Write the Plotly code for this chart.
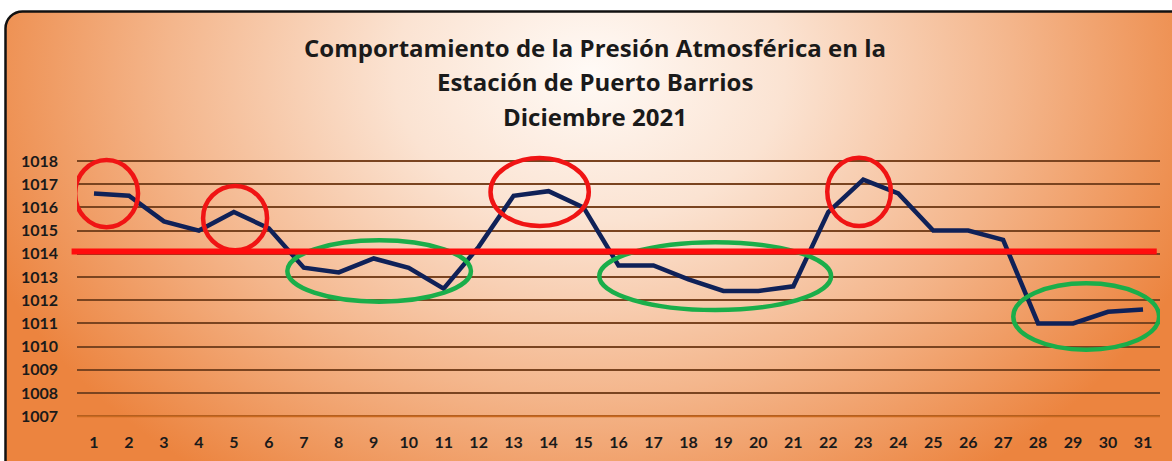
import base64
import plotly.graph_objects as go

days = list(range(1, 32))
pressure = [1016.6, 1016.5, 1015.4, 1015.0, 1015.8, 1015.1, 1013.4, 1013.2, 1013.8, 1013.4,
            1012.5, 1014.3, 1016.5, 1016.7, 1016.0, 1013.5, 1013.5, 1012.9, 1012.4, 1012.4,
            1012.6, 1015.8, 1017.2, 1016.6, 1015.0, 1015.0, 1014.6, 1011.0, 1011.0, 1011.5,
            1011.6]
y_ticks = list(range(1007, 1019))
reference_value = 1014.1

title_lines = ["Comportamiento de la Presión Atmosférica en la",
               "Estación de Puerto Barrios",
               "Diciembre 2021"]

# highlight ellipses (day range, pressure range)
high_marks = [(0.46, 2.26, 1015.15, 1018.04), (4.12, 5.95, 1014.15, 1016.92),
              (12.34, 15.15, 1015.2, 1018.13), (21.97, 23.79, 1015.2, 1018.14)]
low_marks = [(6.53, 11.78, 1011.94, 1014.58), (15.45, 22.08, 1011.58, 1014.5),
             (27.29, 31.46, 1009.87, 1012.73)]

W, H = 1172, 461
svg = f'''<svg xmlns="http://www.w3.org/2000/svg" width="{W}" height="{H}" viewBox="0 0 {W} {H}">
<defs>
<radialGradient id="g" gradientUnits="userSpaceOnUse" cx="0" cy="0" r="1"
 gradientTransform="translate(590,70) scale(650,500)">
<stop offset="0" stop-color="#fffaf6"/>
<stop offset="0.3" stop-color="#fbe3d2"/>
<stop offset="0.65" stop-color="#f4b68c"/>
<stop offset="1" stop-color="#ec843f"/>
</radialGradient>
</defs>
<rect x="0" y="0" width="{W}" height="{H}" fill="#ffffff"/>
<rect x="5.5" y="8.5" width="1190" height="470" rx="17" ry="17" fill="url(#g)" stroke="#111111" stroke-width="2.5"/>
</svg>'''
bg_src = "data:image/svg+xml;base64," + base64.b64encode(svg.encode()).decode()

fig = go.Figure()
fig.add_trace(go.Scatter(x=days, y=pressure, mode="lines",
                         line=dict(color="#0f2158", width=4.5), hoverinfo="x+y"))

shapes = []
shapes.append(dict(type="line", xref="x domain", yref="y", x0=0, x1=1,
                   y0=y_ticks[0], y1=y_ticks[0],
                   line=dict(color="#c9691f", width=2), layer="above"))
for x0, x1, y0, y1 in high_marks:
    shapes.append(dict(type="circle", xref="x", yref="y", x0=x0, x1=x1, y0=y0, y1=y1,
                       line=dict(color="#f01414", width=4.5), layer="above"))
for x0, x1, y0, y1 in low_marks:
    shapes.append(dict(type="circle", xref="x", yref="y", x0=x0, x1=x1, y0=y0, y1=y1,
                       line=dict(color="#1aae4a", width=4.5), layer="above"))
shapes.append(dict(type="line", xref="x domain", yref="y", x0=-0.005, x1=0.997,
                   y0=reference_value, y1=reference_value,
                   line=dict(color="#ff0d0d", width=6), layer="above"))

title_y = [45, 79, 114]
annotations = []
for txt, py in zip(title_lines, title_y):
    annotations.append(dict(text=f"<b>{txt}</b>", xref="paper", yref="paper",
                            x=595 / W, y=1 - py / H, xanchor="center", yanchor="middle",
                            showarrow=False, font=dict(family="Open Sans", size=24, color="#1a1a1a")))

fig.update_layout(
    width=W, height=H,
    margin=dict(l=0, r=0, t=0, b=0),
    paper_bgcolor="rgba(0,0,0,0)", plot_bgcolor="rgba(0,0,0,0)",
    showlegend=False,
    shapes=shapes, annotations=annotations,
    images=[dict(source=bg_src, xref="paper", yref="paper", x=0, y=1, sizex=1, sizey=1,
                 xanchor="left", yanchor="top", sizing="stretch", layer="below")],
    xaxis=dict(domain=[77 / W, 1160 / W], range=[0.514, 31.486], tickmode="array",
               tickvals=days, ticktext=[f"<b>{d}</b>" for d in days],
               showgrid=False, zeroline=False, showline=False, ticks="",
               ticklabelstandoff=3,
               tickfont=dict(family="Lato", size=16, color="#1a1a1a")),
    yaxis=dict(domain=[1 - 427.7 / H, 1 - 152 / H], range=[1006.5, 1018.3],
               tickmode="array", tickvals=y_ticks, ticktext=[f"<b>{v}</b>" for v in y_ticks],
               showgrid=True, gridcolor="#7a4420", gridwidth=2, zeroline=False,
               showline=False, ticks="", ticklabelstandoff=18,
               tickfont=dict(family="Lato", size=16, color="#1a1a1a")),
)

fig.write_html("out.html", config={"displayModeBar": False},
               post_script="document.body.style.margin='0';document.body.style.overflow='hidden';")
